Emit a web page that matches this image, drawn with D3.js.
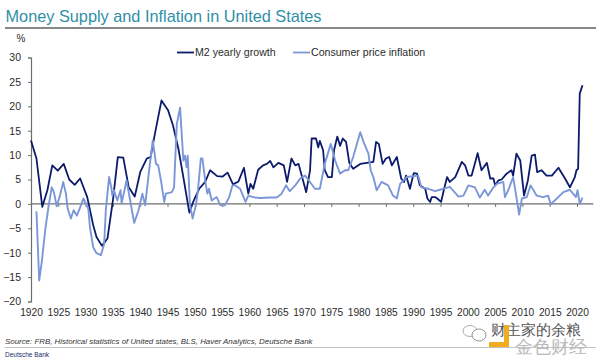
<!DOCTYPE html>
<html>
<head>
<meta charset="utf-8">
<script src="https://cdn.jsdelivr.net/npm/d3@7/dist/d3.min.js"></script>
<style>
html,body{margin:0;padding:0;background:#fff}
svg{display:block}
text{font-family:"Liberation Sans",Arial,sans-serif}
</style>
</head>
<body>
<svg id="c" width="600" height="359"></svg>
<script>
const titleText = "Money Supply and Inflation in United States";
const sourceText = "Source: FRB, Historical statistics of United states,  BLS, Haver Analytics, Deutsche Bank";
const footerText = "Deutsche Bank";
const unitLabel = "%";
const seriesNames = ["M2 yearly growth", "Consumer price inflation"];
const yTicks = [30,25,20,15,10,5,0,-5,-10,-15,-20];
const xTicks = d3.range(1920, 2021, 5);

const m2Years = [1920,1921,1922.07,1923,1923.9,1924.9,1926,1927,1928,1929,1930.3,1931.4,1932,1933,1934,1935,1935.9,1936.9,1937.9,1939,1940,1941.2,1941.9,1942.7,1943.9,1945.1,1946,1947,1947.9,1949,1949.7,1950.8,1951.9,1952.8,1954.1,1955.1,1956,1957,1958,1959,1959.8,1960.2,1960.7,1961.6,1962.5,1963.2,1963.8,1964.4,1965.3,1966.3,1966.9,1967.7,1968.4,1969,1970.4,1971.1,1971.4,1972.2,1972.6,1972.9,1973.5,1973.8,1974.4,1975.1,1975.5,1976.1,1976.6,1977.1,1977.7,1978.3,1979,1980.3,1981.5,1982.7,1983.2,1983.7,1984.4,1985,1985.6,1986.1,1987,1987.8,1988.3,1988.7,1989.4,1990.1,1990.7,1991.2,1992.2,1992.6,1993.1,1993.4,1994,1994.4,1995.1,1995.6,1996.2,1996.7,1997.7,1998.9,1999.5,2000.1,2000.7,2001.8,2002.5,2003.5,2004.1,2004.7,2005,2005.6,2006.2,2007.1,2008,2008.3,2008.9,2009.6,2010.3,2011,2011.7,2012.3,2012.7,2013.5,2014.4,2015.4,2016.6,2017.8,2018.7,2019.6,2019.9,2020.2,2020.35,2020.5,2021];
const m2Values = [13,9.3,-0.6,2.8,7.9,6.8,8.2,5,3.9,5.2,1.4,-4.4,-6.8,-8.6,-7.1,0.7,9.6,9.5,3.4,1.5,6.5,9.3,9.6,14.4,21.2,19.2,16.1,11.3,5.5,-1.8,0.4,3.1,4.5,6.9,5.7,5.6,6.4,4,4.6,7.4,2.1,4.1,3.1,7,7.9,8.2,8.8,7.5,8.4,7.9,4.5,9.3,7.9,8.2,2.4,6.8,13.4,13.4,11.6,12.9,11,6.9,5.5,5.5,11,13.8,11.9,13.4,12.7,8.4,7.2,8.2,8.4,8.6,12.7,12.3,8.2,9.3,9.6,7.9,9.6,5.2,4.5,5.8,3.1,6.3,6.2,3.8,3.1,1.1,0.4,1.4,1.4,1.1,0.4,2.8,5.5,4.5,5.5,8.6,7.9,5.8,5.8,10.4,6.9,8.4,5.2,5.2,3.8,4.8,5,6.2,6.9,5.8,10.3,8.9,1.7,4.8,9.9,10.1,6.5,6.9,5.8,5.8,7.4,5.2,3.4,5.5,6.9,7.2,15,22.6,24.3];

const cpiYears = [1921,1921.5,1922,1922.6,1923.2,1923.8,1924.2,1924.7,1925.3,1925.9,1926.4,1926.7,1927.3,1927.8,1928.4,1929,1929.6,1930.5,1930.8,1931.4,1932,1932.8,1933.4,1933.7,1934.3,1934.7,1934.9,1935.2,1935.8,1936.4,1936.6,1937.5,1938.1,1938.9,1939.7,1940.4,1940.9,1941.7,1942.3,1942.9,1943.3,1943.8,1944.4,1944.7,1945.8,1946.2,1946.7,1947.3,1947.6,1947.9,1948.2,1948.5,1948.7,1949.1,1949.6,1950.2,1950.6,1951.1,1951.4,1951.9,1952.3,1952.6,1953.1,1954,1954.7,1955.5,1956.3,1956.9,1957.4,1958.3,1959.3,1959.8,1961,1962,1963.8,1965,1965.9,1966.7,1967.4,1968.4,1969.3,1970.2,1971.1,1972,1972.9,1973.8,1974.9,1975.7,1976.6,1977.5,1978.1,1979,1980.3,1980.9,1981.8,1982.2,1982.7,1983.3,1984.2,1985.4,1986.3,1987,1987.6,1988.8,1990.9,1991.5,1992.8,1994,1994.9,1996.7,1998.3,1999.2,2000.1,2001.3,2002.2,2003.1,2003.7,2004.7,2005.3,2006.5,2006.8,2007.4,2008.3,2008.8,2009.4,2009.9,2010.8,2011.5,2012.6,2013.8,2014.7,2015.2,2016.3,2017.5,2018.7,2019.8,2020.1,2020.5,2021];
const cpiValues = [-1.5,-15.7,-11.6,-5.4,-0.6,3.4,2.4,-0.5,1.7,4.5,2.1,-0.9,-3,-1.3,-2.4,-0.7,1.1,-1,-4.8,-8.9,-10.1,-10.5,-8.2,-1.3,5.5,3.4,1.7,2.8,0.7,2.8,0.1,4.8,1.1,-3.9,-1.3,2.1,-0.3,7.5,13,8.2,7.9,4.8,0.4,2.1,2.4,3.4,16.4,19.7,14.4,8.9,9.9,7.5,9.9,0,-3,-0.3,3.1,9.3,9.3,4.8,2.1,3.1,0.7,1.4,-0.3,-0.3,1.4,3.8,3.8,3.1,0.4,1.7,1.3,1.2,1.3,1.3,2.1,3.8,2.6,3.8,5.2,5.8,4.5,3.1,3.1,8.2,12.3,8.9,6.2,6.9,6.9,9.6,14.7,12.7,10.3,6.9,5.5,2.8,4.5,3.8,1.7,1.1,4.1,5.5,5.8,3.4,3.1,2.6,2.9,3.5,1.5,1.7,3.8,3.4,1.3,2.9,1.7,3.4,4.1,4.5,1.4,2.8,5.5,2.1,-2.2,1.1,1.4,3.8,1.7,1.4,1.7,-0.1,1.1,2.4,2.9,1.4,2.8,0,1.3];

const svg = d3.select("#c");
const x = d3.scaleLinear().domain([1920, 2023]).range([31, 593.4]);
const y = d3.scaleLinear().domain([-20, 30]).range([301.5, 57.5]);
const axisGrey = "#6e6e6e", ink = "#2b2b2b";

// header
svg.append("text").attr("x", 5.5).attr("y", 22).attr("font-size", 16.6).attr("fill", "#2f8fa6").attr("textLength", 316).attr("lengthAdjust", "spacingAndGlyphs").text(titleText);
svg.append("line").attr("x1", 5).attr("x2", 596).attr("y1", 28).attr("y2", 28).attr("stroke", "#111").attr("stroke-width", 1.2);
svg.append("text").attr("x", 21).attr("y", 42).attr("font-size", 10).attr("text-anchor", "middle").attr("fill", ink).text(unitLabel);

// axes
const gy = svg.append("g").attr("transform", `translate(${x(1920)},0)`)
  .call(d3.axisLeft(y).tickValues(yTicks).tickSize(3).tickPadding(7).tickFormat(d3.format("d")));
gy.selectAll("text").attr("font-size", 10.5).attr("fill", ink).attr("font-family", '"Liberation Sans",Arial,sans-serif');
gy.selectAll("path,line").attr("stroke", axisGrey);
gy.select(".domain").attr("stroke-width", 1.2);

const gx = svg.append("g").attr("transform", `translate(0,${y(0)})`)
  .call(d3.axisBottom(x).tickValues(xTicks).tickSize(3).tickFormat(""));
gx.selectAll("path,line").attr("stroke", axisGrey);
gx.select(".domain").attr("stroke-width", 1.1).attr("d", `M${x(1920)},0H${x(2023)}`);

const gl = svg.append("g").attr("transform", `translate(0,${y(-20)})`)
  .call(d3.axisBottom(x).tickValues(xTicks).tickSize(0).tickPadding(7).tickFormat(d3.format("d")));
gl.select(".domain").remove();
gl.selectAll("text").attr("font-size", 10.2).attr("fill", ink).attr("font-family", '"Liberation Sans",Arial,sans-serif');

// lines
const line = d3.line().x(d => x(d[0])).y(d => y(d[1]));
svg.append("path").datum(d3.zip(m2Years, m2Values)).attr("d", line).attr("fill", "none").attr("stroke", "#0b1a6b").attr("stroke-width", 1.8).attr("stroke-linejoin", "round");
svg.append("path").datum(d3.zip(cpiYears, cpiValues)).attr("d", line).attr("fill", "none").attr("stroke", "#7c97d8").attr("stroke-width", 1.9).attr("stroke-linejoin", "round");

// legend
const legend = [[177, 194, 195, "#0b1a6b"], [293, 310, 311, "#7c97d8"]];
legend.forEach((l, i) => {
  svg.append("line").attr("x1", l[0]).attr("x2", l[1]).attr("y1", 52.5).attr("y2", 52.5).attr("stroke", l[3]).attr("stroke-width", 1.8);
  svg.append("text").attr("x", l[2]).attr("y", 56).attr("font-size", 10.6).attr("fill", ink).text(seriesNames[i]);
});

// footer
svg.append("text").attr("x", 5).attr("y", 343.5).attr("font-size", 7.9).attr("font-style", "italic").attr("fill", "#333").text(sourceText);
svg.append("line").attr("x1", 5).attr("x2", 596).attr("y1", 347.5).attr("y2", 347.5).attr("stroke", "#b5b5b5").attr("stroke-width", 0.8);
svg.append("text").attr("x", 5).attr("y", 357).attr("font-size", 6.5).attr("fill", "#1b2a6b").text(footerText);

// watermark
const wm = svg.append("g");
wm.append("ellipse").attr("cx", 470).attr("cy", 331).attr("rx", 7).attr("ry", 5.5).attr("fill", "#fff").attr("stroke", "#999").attr("stroke-width", 0.8);
wm.append("ellipse").attr("cx", 479).attr("cy", 335).attr("rx", 7).attr("ry", 6).attr("fill", "#fff").attr("stroke", "#777").attr("stroke-width", 0.8);
wm.append("text").attr("x", 491).attr("y", 335).attr("font-size", 14.5).attr("fill", "#555").attr("font-family", '"Noto Sans CJK SC"').text("财主家的余粮");
wm.append("path").attr("d", "M489 342h15v-17h5v22h-20z").attr("fill", "#f0ab1f");
wm.append("text").attr("x", 515).attr("y", 353).attr("font-size", 18).attr("fill", "#b9b9b9").attr("font-family", '"Noto Sans CJK SC"').text("金色财经");
</script>
</body>
</html>
